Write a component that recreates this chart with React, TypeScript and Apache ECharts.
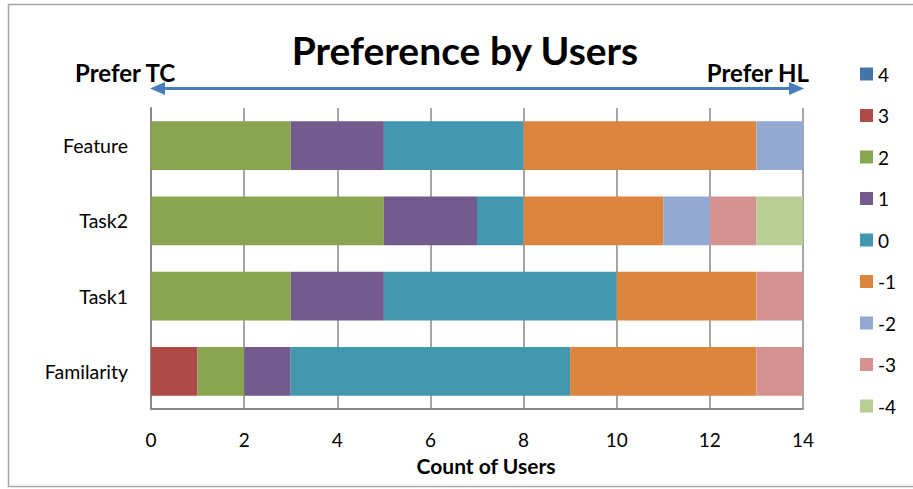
import React, { useEffect, useRef } from "react";
import * as echarts from "echarts";

const categories = ["Familarity", "Task1", "Task2", "Feature"];
const seriesNames = ["4", "3", "2", "1", "0", "-1", "-2", "-3", "-4"];
const s4 = [0, 0, 0, 0];
const s3 = [1, 0, 0, 0];
const s2 = [1, 3, 5, 3];
const s1 = [1, 2, 2, 2];
const s0 = [6, 5, 1, 3];
const sm1 = [4, 3, 3, 5];
const sm2 = [0, 0, 1, 1];
const sm3 = [1, 1, 1, 0];
const sm4 = [0, 0, 1, 0];
const seriesData = [s4, s3, s2, s1, s0, sm1, sm2, sm3, sm4];
const colors = ["#4474A8", "#AE4A47", "#8AA54F", "#735A8F", "#4398AF", "#DC853F", "#93A9D1", "#D49291", "#B8CE95"];

const FONT = "Lato, 'Noto Sans', sans-serif";

export default function App() {
  const ref = useRef<HTMLDivElement>(null);
  useEffect(() => {
    if (!ref.current) return;
    const chart = echarts.init(ref.current, undefined, { renderer: "svg" });
    const arrowColor = "#4A7EBB";
    chart.setOption({
      animation: false,
      textStyle: { fontFamily: FONT },
      grid: { left: 151, right: 110, top: 108, bottom: 80, containLabel: false },
      legend: {
        orient: "vertical",
        left: 855,
        top: 59,
        itemWidth: 13,
        itemHeight: 13,
        itemGap: 21.5,
        icon: "rect",
        textStyle: { fontSize: 19, color: "#000", fontFamily: FONT, padding: [0, 0, 0, 0], lineHeight: 20 },
        data: seriesNames,
      },
      xAxis: {
        type: "value",
        min: 0,
        max: 14,
        interval: 2,
        axisLine: { show: true, lineStyle: { color: "#898989", width: 2 } },
        axisTick: { show: false },
        axisLabel: { fontSize: 19, color: "#000", margin: 21, fontFamily: FONT },
        splitLine: { show: true, lineStyle: { color: "#898989", width: 1.5 } },
      },
      yAxis: {
        type: "category",
        data: categories,
        axisLine: { show: true, lineStyle: { color: "#898989", width: 2 } },
        axisTick: { show: false },
        axisLabel: { fontSize: 19.5, color: "#000", margin: 23, fontFamily: FONT },
        splitLine: { show: false },
      },
      series: seriesNames.map((name, i) => ({
        name,
        type: "bar",
        stack: "total",
        barCategoryGap: "35%",
        data: seriesData[i],
        itemStyle: { color: colors[i] },
      })),
      graphic: [
        {
          type: "rect",
          silent: true,
          shape: { x: 8.5, y: 4.5, width: 920, height: 482 },
          style: { fill: "none", stroke: "#A6A6A6", lineWidth: 1.5 },
          z: -10,
        },
        {
          type: "text",
          style: {
            text: "Preference by Users",
            x: 465,
            y: 50,
            align: "center",
            verticalAlign: "middle",
            font: `bold 39px ${FONT}`,
            fill: "#000",
          },
        },
        {
          type: "text",
          style: {
            text: "Prefer TC",
            x: 75,
            y: 72,
            align: "left",
            verticalAlign: "middle",
            font: `bold 24px ${FONT}`,
            fill: "#000",
          },
        },
        {
          type: "text",
          style: {
            text: "Prefer HL",
            x: 809,
            y: 72,
            align: "right",
            verticalAlign: "middle",
            font: `bold 24px ${FONT}`,
            fill: "#000",
          },
        },
        {
          type: "line",
          shape: { x1: 160, y1: 88.5, x2: 794, y2: 88.5 },
          style: { stroke: arrowColor, lineWidth: 3 },
        },
        {
          type: "polygon",
          shape: { points: [[150, 88.5], [165, 82], [165, 95]] },
          style: { fill: arrowColor },
        },
        {
          type: "polygon",
          shape: { points: [[804, 88.5], [789, 82], [789, 95]] },
          style: { fill: arrowColor },
        },
        {
          type: "text",
          style: {
            text: "Count of Users",
            x: 486,
            y: 465,
            align: "center",
            verticalAlign: "middle",
            font: `bold 21px ${FONT}`,
            fill: "#000",
          },
        },
      ],
    });
    return () => chart.dispose();
  }, []);
  return (
    <div
      ref={ref}
      style={{ position: "absolute", left: 0, top: 0, width: 913, height: 489, background: "#fff" }}
    />
  );
}
